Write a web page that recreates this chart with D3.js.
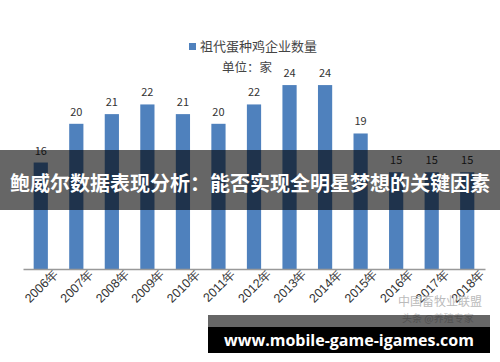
<!DOCTYPE html>
<html>
<head>
<meta charset="utf-8">
<script src="https://cdn.jsdelivr.net/npm/d3@7"></script>
<style>
body{margin:0;background:#fff;}
svg{display:block;font-family:"Noto Sans CJK SC","Noto Sans",sans-serif;}
</style>
</head>
<body>
<div id="chart"></div>
<script>
var years=["2006年","2007年","2008年","2009年","2010年","2011年","2012年","2013年","2014年","2015年","2016年","2017年","2018年"];
var counts=[16,20,21,22,21,20,22,24,24,19,15,15,15];
var seriesName="祖代蛋种鸡企业数量";
var unitLabel="单位：家";
var title="鲍威尔数据表现分析：能否实现全明星梦想的关键因素";
var site="www.mobile-game-igames.com";

var W=500,H=362;
var svg=d3.select("#chart").append("svg").attr("width",W).attr("height",H);

var x=d3.scaleBand().domain(years).range([23,485]).paddingInner(0.6).paddingOuter(0.3);
var y=d3.scaleLinear().domain([5,30]).range([269,27]);

// bars
svg.selectAll("rect.bar").data(counts).enter().append("rect")
	.attr("class","bar")
	.attr("x",function(d,i){return x(years[i]);})
	.attr("y",function(d){return y(d);})
	.attr("width",x.bandwidth())
	.attr("height",function(d){return y(5)-y(d);})
	.style("fill","#4f81bd");

// value labels
svg.selectAll("text.val").data(counts).enter().append("text")
	.attr("class","val")
	.attr("x",function(d,i){return x(years[i])+x.bandwidth()/2;})
	.attr("y",function(d){return y(d)-8;})
	.attr("text-anchor","middle")
	.attr("font-size",11)
	.attr("fill","#333")
	.text(function(d){return d;});

// x axis
var xAxis=svg.append("g").attr("transform","translate(0,269)")
	.call(d3.axisBottom(x).tickSize(0).tickSizeOuter(0));
xAxis.select(".domain").attr("stroke","#999").attr("stroke-width",1.5);
xAxis.selectAll("text")
	.attr("font-size",12.5)
	.attr("fill","#333")
	.attr("text-anchor","end")
	.attr("dx","0.7em")
	.attr("dy","1.1em")
	.attr("transform","rotate(-45)");

// legend
svg.append("rect").attr("x",189).attr("y",43).attr("width",7).attr("height",7).style("fill","#4f81bd");
svg.append("text").attr("x",200).attr("y",51).attr("font-size",13).attr("fill","#444").text(seriesName);
svg.append("text").attr("x",222).attr("y",72).attr("font-size",12.5).attr("fill","#444").text(unitLabel);

// watermark
svg.append("text").attr("x",398).attr("y",306).attr("font-size",12).attr("fill","#bbb").text("中国畜牧业联盟");
svg.append("text").attr("x",402).attr("y",322).attr("font-size",10).attr("fill","#ccc").text("头条 @养殖专家");

// title banner
svg.append("rect").attr("x",0).attr("y",150).attr("width",W).attr("height",60).style("fill","rgba(0,0,0,0.6)");
svg.append("text").attr("x",W/2).attr("y",191).attr("text-anchor","middle")
	.attr("font-size",20).attr("font-weight","bold").attr("fill","#fff").text(title);

// site footer
svg.append("rect").attr("x",208).attr("y",315).attr("width",282).attr("height",12).style("fill","rgba(0,0,0,0.6)");
svg.append("rect").attr("x",208).attr("y",327).attr("width",282).attr("height",26).style("fill","#000");
svg.append("text").attr("x",349).attr("y",346).attr("text-anchor","middle")
	.attr("font-size",16).attr("font-weight","bold").attr("fill","#fff")
	.style("font-family","'Open Sans','DejaVu Sans',sans-serif").text(site);
</script>
</body>
</html>
